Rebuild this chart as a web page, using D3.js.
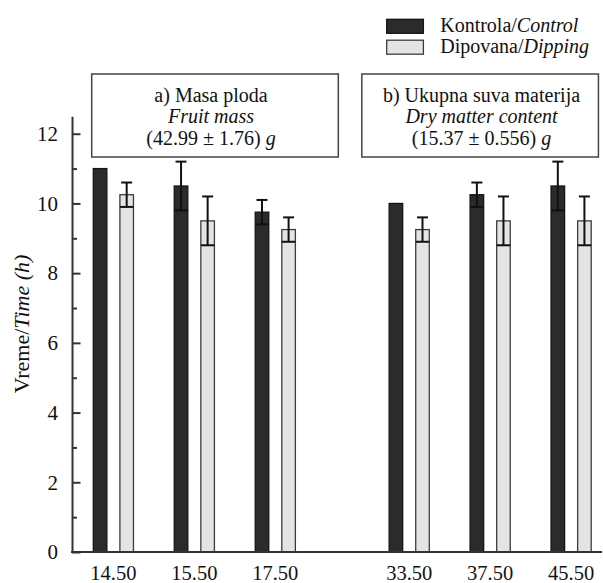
<!DOCTYPE html>
<html>
<head>
<meta charset="utf-8">
<script src="https://cdn.jsdelivr.net/npm/d3@7"></script>
<style>
  html, body { margin: 0; padding: 0; background: #fff; }
  svg { display: block; font-family: "Liberation Serif", "Times New Roman", "DejaVu Serif", serif; }
</style>
</head>
<body>
<svg width="603" height="583"></svg>
<script>
// data
const series = ['control', 'dipping'];
const seriesLabels = [['Kontrola/', 'Control'], ['Dipovana/', 'Dipping']];

const categoriesA = ['14.50', '15.50', '17.50'];
const controlA = [11.0, 10.5, 9.75];
const controlErrA = [0, 0.7, 0.35];
const dippingA = [10.25, 9.5, 9.25];
const dippingErrA = [0.35, 0.7, 0.35];

const categoriesB = ['33.50', '37.50', '45.50'];
const controlB = [10.0, 10.25, 10.5];
const controlErrB = [0, 0.35, 0.7];
const dippingB = [9.25, 9.5, 9.5];
const dippingErrB = [0.35, 0.7, 0.7];

const titleA = ['a) Masa ploda', 'Fruit mass', '(42.99 ± 1.76) '];
const titleB = ['b) Ukupna suva materija', 'Dry matter content', '(15.37 ± 0.556) '];

const yTicks = [0, 2, 4, 6, 8, 10, 12];
const yMinorTicks = [1, 3, 5, 7, 9, 11];

const colors = { control: '#2b2b2b', dipping: '#e4e4e4' };
const strokes = { control: '#151515', dipping: '#3c3c3c' };
const serif = '"Liberation Serif", "Times New Roman", serif';

const svg = d3.select('svg');

const y = d3.scaleLinear().domain([0, 12.5]).range([552, 116.3]);

const panelX = d3.scaleBand().domain(['a', 'b']).range([72.9, 611.6]).paddingInner(0.179);

const panels = [
  { key: 'a', cats: categoriesA, control: controlA, controlErr: controlErrA, dipping: dippingA, dippingErr: dippingErrA, title: titleA },
  { key: 'b', cats: categoriesB, control: controlB, controlErr: controlErrB, dipping: dippingB, dippingErr: dippingErrB, title: titleB }
];

const barsG = svg.append('g');

panels.forEach(p => {
  const x0 = panelX(p.key);
  const catX = d3.scaleBand().domain(p.cats).range([x0, x0 + panelX.bandwidth()]);
  const serX = d3.scaleBand().domain(series).range([catX.bandwidth() * 0.252, catX.bandwidth() * 0.748]).paddingInner(0.49);

  const rows = [];
  p.cats.forEach((c, i) => {
    rows.push({ cat: c, s: 'control', v: p.control[i], e: p.controlErr[i] });
    rows.push({ cat: c, s: 'dipping', v: p.dipping[i], e: p.dippingErr[i] });
  });

  const g = barsG.append('g');
  g.selectAll('rect')
    .data(rows)
    .join('rect')
      .attr('x', d => catX(d.cat) + serX(d.s))
      .attr('y', d => y(d.v))
      .attr('width', serX.bandwidth())
      .attr('height', d => y(0) - y(d.v))
      .attr('fill', d => colors[d.s])
      .attr('stroke', d => strokes[d.s])
      .attr('stroke-width', 1.3);

  // error bars: top cap + stem + bottom line across the bar
  const err = g.append('g')
      .attr('stroke', '#111')
      .attr('stroke-width', 2)
    .selectAll('g')
    .data(rows.filter(d => d.e > 0))
    .join('g');
  const cx = d => catX(d.cat) + serX(d.s) + serX.bandwidth() / 2;
  err.append('line')
    .attr('x1', cx).attr('x2', cx)
    .attr('y1', d => y(d.v + d.e)).attr('y2', d => y(d.v - d.e));
  err.append('line')
    .attr('x1', d => cx(d) - 5.5).attr('x2', d => cx(d) + 5.5)
    .attr('y1', d => y(d.v + d.e)).attr('y2', d => y(d.v + d.e));
  err.append('line')
    .attr('x1', d => catX(d.cat) + serX(d.s)).attr('x2', d => catX(d.cat) + serX(d.s) + serX.bandwidth())
    .attr('y1', d => y(d.v - d.e)).attr('y2', d => y(d.v - d.e));

  // category labels
  svg.append('g')
      .attr('transform', `translate(0,${y(0)})`)
      .call(d3.axisBottom(catX).tickSize(0).tickPadding(13.5))
      .call(a => a.select('.domain').remove())
      .selectAll('text')
        .attr('font-family', serif)
        .attr('font-size', 20.5)
        .attr('fill', '#111');
});

// title boxes
const boxes = [
  { p: panels[0], x: panelX('a') + 18.8, w: 246.6, tx: 211 },
  { p: panels[1], x: panelX('b') - 6.9, w: 236.6, tx: 481.5 }
];
boxes.forEach(b => {
  const g = svg.append('g');
  g.append('rect')
    .attr('x', b.x).attr('y', 74)
    .attr('width', b.w).attr('height', 83)
    .attr('fill', '#fff')
    .attr('stroke', '#444')
    .attr('stroke-width', 1.5);
  const t = g.append('text')
    .attr('text-anchor', 'middle')
    .attr('font-size', 20)
    .attr('fill', '#111');
  t.append('tspan').attr('x', b.tx).attr('y', 101.5).text(b.p.title[0]);
  t.append('tspan').attr('x', b.tx).attr('y', 123).attr('font-style', 'italic').text(b.p.title[1]);
  const l3 = t.append('tspan').attr('x', b.tx).attr('y', 144.5);
  l3.append('tspan').text(b.p.title[2]);
  l3.append('tspan').attr('font-style', 'italic').text('g');
});

// y axis
svg.append('g')
    .attr('transform', 'translate(72,0)')
    .call(d3.axisLeft(y).tickValues(yTicks).tickSizeInner(-8.5).tickSizeOuter(0).tickPadding(14))
    .call(a => a.select('.domain').attr('stroke', '#333').attr('stroke-width', 2))
    .call(a => a.selectAll('.tick line').attr('stroke', '#333').attr('stroke-width', 2))
    .call(a => a.selectAll('text')
      .attr('font-family', serif)
      .attr('font-size', 21)
      .attr('fill', '#111'));

svg.append('g')
    .attr('transform', 'translate(72,0)')
    .call(d3.axisLeft(y).tickValues(yMinorTicks).tickSizeInner(-5).tickSizeOuter(0).tickFormat(''))
    .call(a => a.select('.domain').remove())
    .call(a => a.selectAll('.tick line').attr('stroke', '#333').attr('stroke-width', 2));

// x baseline
svg.append('line')
    .attr('x1', 71).attr('x2', 602)
    .attr('y1', y(0)).attr('y2', y(0))
    .attr('stroke', '#333')
    .attr('stroke-width', 2);

// y label
const yl = svg.append('text')
    .attr('transform', 'translate(28.5,324) rotate(-90)')
    .attr('text-anchor', 'middle')
    .attr('font-size', 22)
    .attr('fill', '#111');
yl.append('tspan').text('Vreme/');
yl.append('tspan').attr('font-style', 'italic').text('Time (h)');

// legend
const legend = svg.append('g')
  .selectAll('g')
  .data(series)
  .join('g')
    .attr('transform', (d, i) => `translate(386.7,${19.3 + i * 20.9})`);
legend.append('rect')
    .attr('width', 36.7).attr('height', 14)
    .attr('fill', d => colors[d])
    .attr('stroke', d => strokes[d])
    .attr('stroke-width', 1.3);
const lt = legend.append('text')
    .attr('x', 53.5).attr('y', 12.6)
    .attr('font-size', 20)
    .attr('fill', '#111');
lt.append('tspan').text((d, i) => seriesLabels[i][0]);
lt.append('tspan').attr('font-style', 'italic').text((d, i) => seriesLabels[i][1]);
</script>
</body>
</html>
